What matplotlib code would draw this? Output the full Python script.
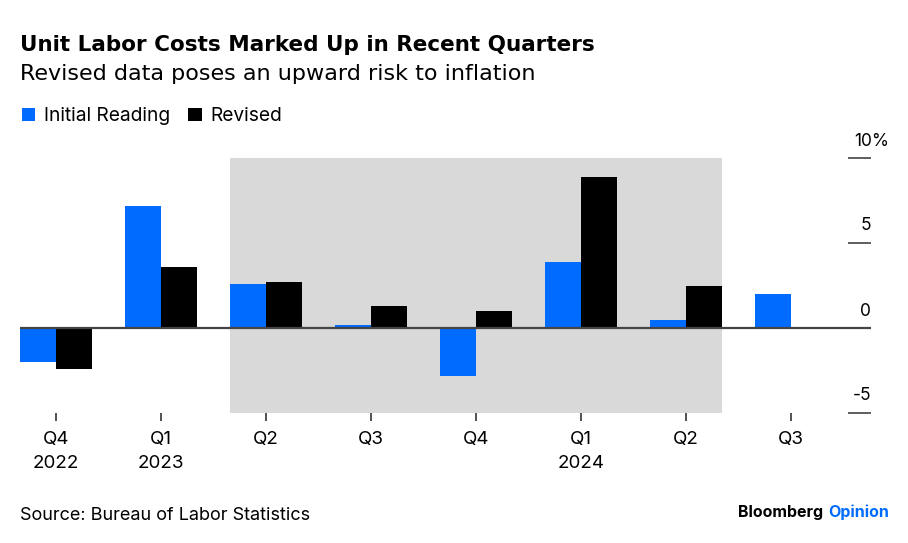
import numpy as np
import matplotlib.pyplot as plt

plt.rcParams['font.family'] = ['Inter', 'DejaVu Sans']

# Data (percent change, annualized)
quarters = ['Q4\n2022', 'Q1\n2023', 'Q2', 'Q3', 'Q4', 'Q1\n2024', 'Q2', 'Q3']
initial = [-2.0, 7.2, 2.6, 0.2, -2.8, 3.9, 0.5, 2.0]
revised = [-2.4, 3.6, 2.7, 1.3, 1.0, 8.9, 2.5, np.nan]
y_ticks = [-5, 0, 5, 10]
y_labels = ['-5', '0', '5', '10%']

blue = '#006BFF'
W, H = 908, 543

fig = plt.figure(figsize=(W / 100, H / 100), dpi=100)
ax = fig.add_axes([20 / W, 1 - 413 / H, 851 / W, 255 / H])

x = np.arange(len(quarters))
bw = 0.343

# shaded period
ax.axvspan(2 - bw, 6 + bw, color='#D9D9D9', lw=0, zorder=0)

b1 = ax.bar(x - bw / 2, initial, width=bw, color=blue, label='Initial Reading', zorder=2)
b2 = ax.bar(x + bw / 2, revised, width=bw, color='black', label='Revised', zorder=2)
ax.axhline(0, color='#444444', lw=1.6, zorder=3)

ax.set_xlim(-bw, 7.76)
ax.set_ylim(-5, 10)

for s in ax.spines.values():
    s.set_visible(False)

ax.set_xticks(x)
ax.set_xticklabels(quarters, fontsize=13.5, linespacing=1.5)
ax.tick_params(axis='x', length=5.8, width=1.2, color='#333333', pad=7.5)

ax.yaxis.tick_right()
ax.set_yticks(y_ticks)
ax.set_yticklabels([])
ax.tick_params(axis='y', direction='in', length=16.5, width=1.1, color='#333333')

for v, lab in zip(y_ticks, y_labels):
    dx = 13 if lab.endswith('%') else 0
    ax.annotate(lab, xy=(1, v), xycoords=('axes fraction', 'data'),
                xytext=(dx, 9), textcoords='offset points',
                ha='right', va='baseline', fontsize=12.5, annotation_clip=False)

# titles
fig.text(20 / W, 1 - 51 / H, 'Unit Labor Costs Marked Up in Recent Quarters',
         fontsize=15.5, fontweight='bold', va='baseline', family='DejaVu Sans')
fig.text(20 / W, 1 - 80 / H, 'Revised data poses an upward risk to inflation',
         fontsize=16, va='baseline', family='DejaVu Sans')

leg = ax.legend(handles=[b1, b2], loc='upper left', bbox_to_anchor=(22 / W, 1 - 107 / H),
                bbox_transform=fig.transFigure, ncol=2, frameon=False, fontsize=13.8,
                handlelength=0.7, handleheight=0.7, handletextpad=0.45,
                columnspacing=0.95, borderpad=0, borderaxespad=0)

fig.text(20 / W, 1 - 520 / H, 'Source: Bureau of Labor Statistics', fontsize=13, va='baseline')
fig.text(823 / W, 1 - 517 / H, 'Bloomberg', fontsize=11.5, fontweight='bold',
         ha='right', va='baseline')
fig.text(889 / W, 1 - 517 / H, 'Opinion', fontsize=11.5, fontweight='bold', color=blue,
         ha='right', va='baseline')

fig.savefig('out.png', dpi=100)
